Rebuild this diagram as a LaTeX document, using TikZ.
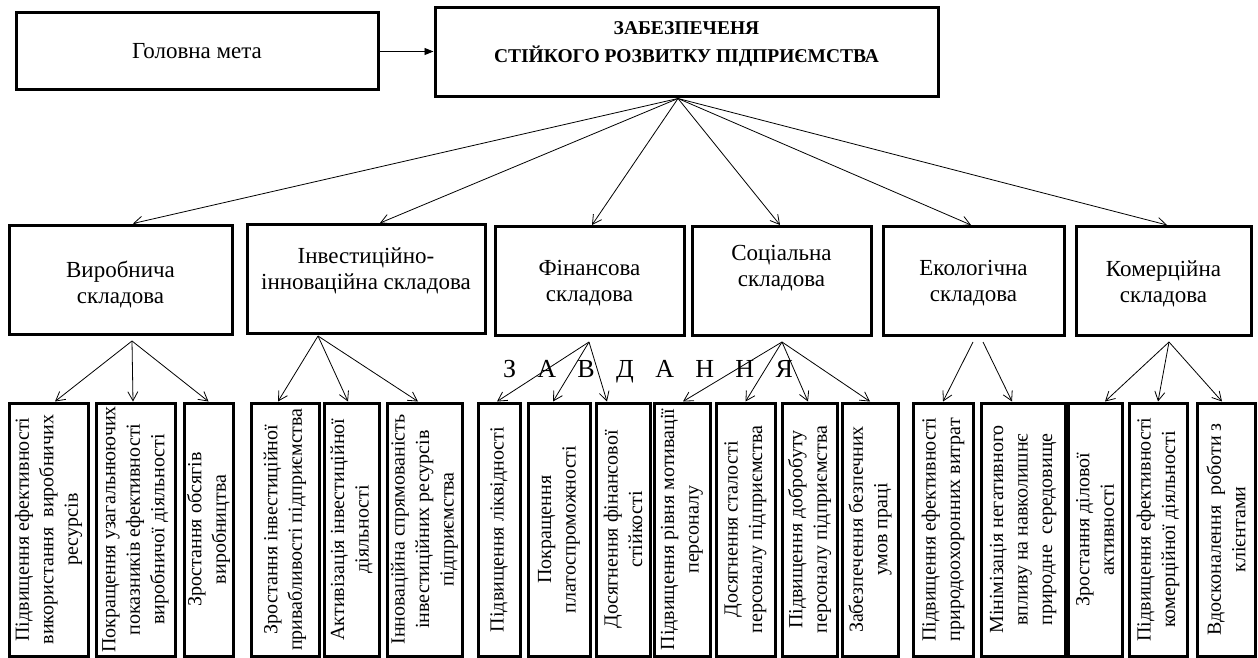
\documentclass[tikz,border=0pt]{standalone}
\usepackage{fontspec}
\setmainfont{Liberation Serif}
\usetikzlibrary{arrows.meta,calc}
\begin{document}
\begin{tikzpicture}[x=1pt,y=-1pt,
  box/.style={draw, line width=3pt, inner sep=0pt, align=center},
  lab2/.style={font=\fontsize{23}{26}\selectfont, align=center},
  box2/.style={box, minimum height=109pt},
  box3/.style={box, rotate=90, minimum width=253pt, font=\fontsize{20}{24.5}\selectfont},
  conn/.style={line width=0.8pt, -{Straight Barb[length=9pt,width=10pt]}},
  mainarrow/.style={line width=0.8pt, -{Triangle[length=9pt,width=7pt]}}
]
\useasboundingbox (0,0) rectangle (1258,658);
% top level
\node[box, minimum width=362pt, minimum height=77pt, font=\fontsize{23}{27}\selectfont] (gm) at (197,51.5) {Головна мета};
\node[box, minimum width=503pt, minimum height=89pt,
  label={[font=\bfseries\fontsize{19.5}{28}\selectfont, align=center, yshift=8pt]center:ЗАБЕЗПЕЧЕНЯ\\СТІЙКОГО РОЗВИТКУ ПІДПРИЄМСТВА}] (main) at (686.5,52.5) {};
\draw[mainarrow] (gm.east) -- (gm.east -| main.west);
% second level
\node[box2, minimum width=223pt, label={[lab2,yshift=-4.5pt]center:Виробнича\\складова}] (v) at (120.5,279.5) {};
\node[box2, minimum width=238pt, label={[lab2,yshift=8.5pt]center:Інвестиційно-\\інноваційна складова}] (i) at (366,279) {};
\node[box2, minimum width=189pt, label={[lab2,yshift=-2.5pt]center:Фінансова\\складова}] (f) at (589.5,281) {};
\node[box2, minimum width=179pt, label={[lab2,yshift=12.5pt]center:Соціальна\\складова}] (s) at (781.5,281) {};
\node[box2, minimum width=181pt, label={[lab2,yshift=-2.5pt]center:Екологічна\\складова}] (e) at (973.5,281) {};
\node[box2, minimum width=175pt, label={[lab2,yshift=-2.5pt]center:Комерційна\\складова}] (k) at (1163.5,281) {};
\coordinate (mo) at ([xshift=-8.5pt]main.south);
\draw[conn] (mo) -- ([xshift=12.5pt]v.north);
\draw[conn] (mo) -- ([xshift=14pt]i.north);
\draw[conn] (mo) -- ([xshift=2.5pt]f.north);
\draw[conn] (mo) -- ([xshift=-1.5pt]s.north);
\draw[conn] (mo) -- ([xshift=-2.5pt]e.north);
\draw[conn] (mo) -- ([xshift=3.5pt]k.north);
% ZAVDANNYA
\node[font=\fontsize{26}{30}\selectfont, inner sep=0pt] (zav) at (648,372) {\makebox[290pt][s]{З\hfill А\hfill В\hfill Д\hfill А\hfill Н\hfill Н\hfill Я}};
% third level
\node[box3, minimum height=79pt] (b1) at (48.5,529.5) {Підвищення ефективності\\використання\ \ виробничих\\ресурсів};
\node[box3, minimum height=79pt] (b2) at (135.5,529.5) {Покращення узагальнюючих\\показників ефективності\\виробничої діяльності};
\node[box3, minimum height=49pt] (b3) at (208.5,529.5) {Зростання обсягів\\виробництва};
\node[box3, minimum height=68pt] (b4) at (285,529.5) {Зростання інвестиційної\\привабливості підприємства};
\node[box3, minimum height=55pt] (b5) at (351.5,529.5) {Активізація інвестиційної\\діяльності};
\node[box3, minimum height=75pt] (b6) at (424.5,529.5) {Інноваційна спрямованість\\інвестиційних ресурсів\\підприємства};
\node[box3, minimum height=42pt] (b7) at (499,529.5) {Підвищення ліквідності};
\node[box3, minimum height=62pt] (b8) at (559,529.5) {Покращення\\платоспроможності};
\node[box3, minimum height=54pt] (b9) at (623,529.5) {Досягнення фінансової\\стійкості};
\node[box3, minimum height=56pt] (b10) at (682,529.5) {Підвищення рівня мотивації\\персоналу};
\node[box3, minimum height=59pt] (b11) at (745.5,529.5) {Досягнення сталості\\персоналу підприємства};
\node[box3, minimum height=55pt] (b12) at (809.5,529.5) {Підвищення добробуту\\персоналу підприємства};
\node[box3, minimum height=56pt] (b13) at (870,529.5) {Забезпечення безпечних\\умов праці};
\node[box3, minimum height=60pt] (b14) at (943,529.5) {Підвищення ефективності\\природоохоронних витрат};
\node[box3, minimum height=84pt] (b15) at (1023,529.5) {Мінімізація негативного\\впливу на навколишнє\\природне\ \ середовище};
\node[box3, minimum height=54pt] (b16) at (1095,529.5) {Зростання ділової\\активності};
\node[box3, minimum height=58pt] (b17) at (1158,529.5) {Підвищення ефективності\\комерційної діяльності};
\node[box3, minimum height=58pt] (b18) at (1226,529.5) {Вдосконалення\ \ роботи з\\клієнтами};
% fans
\draw[conn] ([xshift=11.5pt,yshift=-5.5pt]v.south) -- ([xshift=6.5pt]b1.east);
\draw[conn] ([xshift=11.5pt,yshift=-5.5pt]v.south) -- ([xshift=-2.5pt]b2.east);
\draw[conn] ([xshift=11.5pt,yshift=-5.5pt]v.south) -- (b3.east);
\draw[conn] ([xshift=-48pt,yshift=-1pt]i.south) -- ([xshift=-7pt]b4.east);
\draw[conn] ([xshift=-48pt,yshift=-1pt]i.south) -- ([xshift=-3.5pt]b5.east);
\draw[conn] ([xshift=-48pt,yshift=-1pt]i.south) -- ([xshift=-6.5pt]b6.east);
\draw[conn] ([xshift=-0.5pt,yshift=-5pt]f.south) -- ([xshift=-2pt]b7.east);
\draw[conn] ([xshift=-0.5pt,yshift=-5pt]f.south) -- ([xshift=-6pt]b8.east);
\draw[conn] ([xshift=-0.5pt,yshift=-5pt]f.south) -- ([xshift=-16pt]b9.east);
\draw[conn] ([xshift=0.5pt,yshift=-5pt]s.south) -- ([xshift=1pt]b10.east);
\draw[conn] ([xshift=0.5pt,yshift=-5pt]s.south) -- (b11.east);
\draw[conn] ([xshift=0.5pt,yshift=-5pt]s.south) -- ([xshift=-1.5pt]b12.east);
\draw[conn] ([xshift=0.5pt,yshift=-5pt]s.south) -- (b13.east);
\draw[conn] ([xshift=-0.5pt,yshift=-5pt]e.south) -- (b14.east);
\draw[conn] ([xshift=9.5pt,yshift=-5pt]e.south) -- ([xshift=-11pt]b15.east);
\draw[conn] ([xshift=5.5pt,yshift=-5pt]k.south) -- ([xshift=10pt]b16.east);
\draw[conn] ([xshift=5.5pt,yshift=-5pt]k.south) -- (b17.east);
\draw[conn] ([xshift=5.5pt,yshift=-5pt]k.south) -- ([xshift=-4pt]b18.east);
\end{tikzpicture}
\end{document}
